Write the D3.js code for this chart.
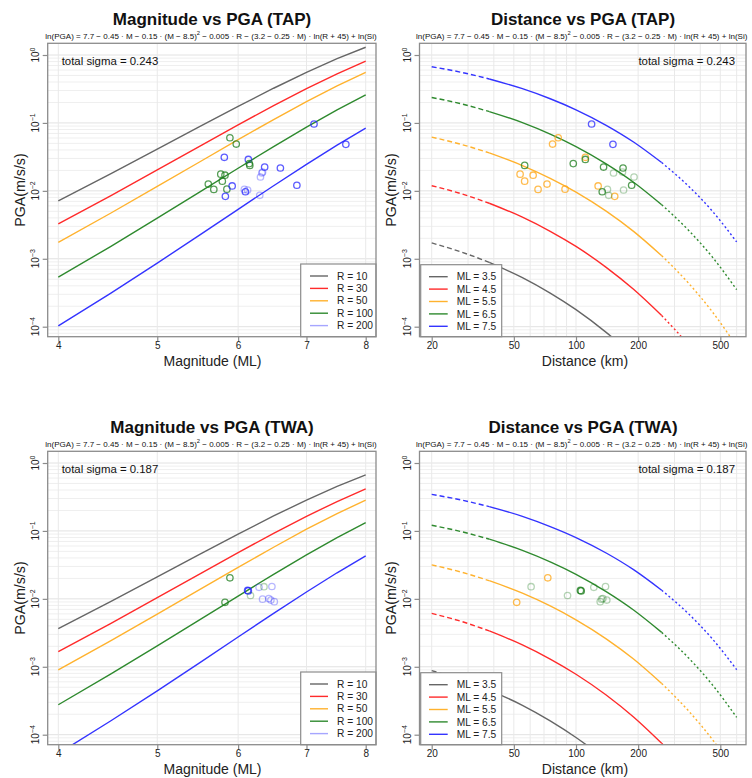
<!DOCTYPE html>
<html>
<head>
<meta charset="utf-8">
<script src="https://cdn.jsdelivr.net/npm/d3@7"></script>
<style>
  body { margin: 0; background: #fff; }
  svg text { font-family: "Liberation Sans", Arial, sans-serif; }
</style>
</head>
<body>
<div id="chart"></div>
<script>
// ---------------- data ----------------
var magGrid = [4, 4.5, 5, 5.5, 6, 6.5, 7, 7.5, 8];
var rLevels = [10, 30, 50, 100, 200];
var distGrid = [20, 28, 38, 55, 75, 100, 140, 190, 260, 350, 460, 600];
var mlLevels = [3.5, 4.5, 5.5, 6.5, 7.5];

// PGA along the magnitude curves, one row per R level
var tapMagCurves = [
  [0.00712, 0.0178, 0.0411, 0.0881, 0.175, 0.324, 0.555, 0.882, 1.30],
  [0.00326, 0.00844, 0.0203, 0.0453, 0.0937, 0.180, 0.320, 0.529, 0.811],
  [0.00175, 0.00468, 0.0116, 0.0266, 0.0567, 0.112, 0.206, 0.350, 0.553],
  [0.000538, 0.00151, 0.00396, 0.00958, 0.0215, 0.0449, 0.0868, 0.156, 0.259],
  [0.000103, 0.000309, 0.000863, 0.00223, 0.00535, 0.0119, 0.0246, 0.0471, 0.0838]
];
var twaMagCurves = [
  [0.00365, 0.00911, 0.0211, 0.0452, 0.0900, 0.166, 0.285, 0.452, 0.667],
  [0.00167, 0.00433, 0.0104, 0.0232, 0.0480, 0.0922, 0.164, 0.271, 0.416],
  [0.000899, 0.00240, 0.00594, 0.0137, 0.0291, 0.0575, 0.106, 0.180, 0.284],
  [0.000276, 0.000777, 0.00203, 0.00491, 0.0110, 0.0230, 0.0445, 0.0799, 0.133],
  [0.0000528, 0.000159, 0.000442, 0.00114, 0.00274, 0.00611, 0.0126, 0.0242, 0.0430]
];

// PGA along the distance curves, one row per ML level
var tapDistCurves = [
  [0.00171, 0.00125, 0.000885, 0.000527, 0.000312, 0.000178, 0.0000825, 0.0000368, 0.0000142, 0.00000495, 0.00000161, 0.00000045],
  [0.0119, 0.00902, 0.00657, 0.00410, 0.00254, 0.00152, 0.000748, 0.000355, 0.000146, 0.0000543, 0.0000188, 0.0000056],
  [0.0618, 0.0480, 0.0362, 0.0236, 0.0153, 0.00958, 0.00503, 0.00253, 0.00111, 0.000441, 0.000162, 0.0000516],
  [0.237, 0.190, 0.147, 0.101, 0.0685, 0.0449, 0.0250, 0.0134, 0.00625, 0.00265, 0.00104, 0.000351],
  [0.672, 0.554, 0.444, 0.319, 0.227, 0.156, 0.0923, 0.0524, 0.0261, 0.0118, 0.00493, 0.00177]
];
var twaDistCurves = [
  [0.000877, 0.000643, 0.000454, 0.000271, 0.000160, 0.0000910, 0.0000423, 0.0000189, 0.00000726, 0.00000254, 0.00000083, 0.00000023],
  [0.00612, 0.00463, 0.00337, 0.00210, 0.00130, 0.000777, 0.000384, 0.000182, 0.0000746, 0.0000278, 0.00000964, 0.00000288],
  [0.0317, 0.0246, 0.0185, 0.0121, 0.00786, 0.00491, 0.00258, 0.00130, 0.000568, 0.000226, 0.0000833, 0.0000265],
  [0.121, 0.0972, 0.0756, 0.0518, 0.0351, 0.0230, 0.0128, 0.00686, 0.00321, 0.00136, 0.000533, 0.000180],
  [0.345, 0.284, 0.228, 0.164, 0.116, 0.0799, 0.0473, 0.0269, 0.0134, 0.00606, 0.00253, 0.000907]
];

// recorded events: magnitude, distance (km), PGA, faint flag
var tapM   = [5.89, 5.975, 7.12, 7.65, 5.816, 6.14, 6.154, 6.16, 6.37, 6.6, 6.33, 6.34, 6.31, 5.77, 5.825, 5.79, 5.61, 5.68, 5.85, 5.92, 6.85, 6.085, 6.13, 6.1, 5.83, 6.30];
var tapR   = [82, 77, 119, 151, 111, 111, 97, 56.4, 136, 169, 152, 168, 191, 53.6, 62, 56.4, 72.4, 65.5, 88.5, 128, 186, 142, 170, 134, 154, 144];
var tapPGA = [0.0605, 0.0489, 0.0964, 0.0484, 0.0312, 0.029, 0.0252, 0.0237, 0.0224, 0.0217, 0.0183, 0.0189, 0.016, 0.0176, 0.017, 0.0139, 0.0126, 0.0105, 0.0106, 0.0118, 0.0121, 0.0105, 0.0103, 0.0097, 0.0083, 0.0086];
var tapFaint = [0, 0, 0, 0, 0, 0, 0, 0, 0, 0, 1, 1, 1, 0, 0, 0, 0, 0, 0, 0, 0, 1, 1, 0, 0, 1];

var twaM   = [5.89, 5.825, 6.14, 6.13, 6.17, 6.29, 6.36, 6.475, 6.34, 6.43, 6.46, 6.51];
var twaR   = [73, 51.6, 106, 105, 91, 122, 60.6, 139, 133, 135, 141, 131];
var twaPGA = [0.0204, 0.0089, 0.0131, 0.0133, 0.0112, 0.0148, 0.0151, 0.0152, 0.0099, 0.0101, 0.0096, 0.0091];
var twaFaint = [0, 0, 0, 0, 1, 1, 1, 1, 1, 1, 1, 1];

var sigmas = ["0.243", "0.187"];
var sites = ["TAP", "TWA"];
var yTicks = [1, 0.1, 0.01, 0.001, 0.0001];
var yExp = ["0", "\u22121", "\u22122", "\u22123", "\u22124"];
var magTicks = [4, 5, 6, 7, 8];
var distTicks = [20, 50, 100, 200, 500];
var distGridLines = [20, 30, 40, 50, 60, 70, 80, 90, 100, 200, 300, 400, 500, 600];

// ---------------- styling ----------------
var lineCols = ["#666666", "#ff2b2b", "#ffb22e", "#2f8a2f", "#3434ff"];
var magLegendCols = ["#666666", "#ff2b2b", "#ffb22e", "#2f8a2f", "#a6a6ff"];
var ptCols = ["#555555", "#ff0000", "#ffa514", "#1e7d1e", "#2626ff"];
var boxCol = "#8c8c8c";

var svg = d3.select("#chart").append("svg")
    .attr("width", 752)
    .attr("height", 778);

var panels = [];
[0, 1].forEach(function(row) {
    var site = row == 0 ? "tap" : "twa";
    panels.push({kind: "mag", row: row, site: site});
    panels.push({kind: "dist", row: row, site: site});
});

panels.forEach(function(p, idx) { drawPanel(p, idx); });

function drawPanel(p, idx) {
    var dy = p.row * 408;
    var isMag = p.kind == "mag";
    var left = isMag ? 47.7 : 419.5,
        right = isMag ? 376 : 746,
        top = 43.3 + dy,
        bot = 336.7 + dy;

    var x = isMag
        ? d3.scaleLog().domain([4, 8]).range([58.3, 365.7])
        : d3.scaleLog().domain([20, 500]).range([431.7, 720.3]);
    var y = d3.scaleLog().domain([1e-4, 1]).range([326.7 + dy, 55 + dy]);

    var g = svg.append("g");

    var clipId = "clip" + idx;
    svg.append("clipPath").attr("id", clipId)
        .append("rect")
        .attr("x", left).attr("y", top)
        .attr("width", right - left).attr("height", bot - top);

    // grid
    var grid = g.append("g").attr("clip-path", "url(#" + clipId + ")");
    for (var e = -5; e <= 0; e++) {
        for (var k = 1; k <= 9; k++) {
            var v = k * Math.pow(10, e);
            var yy = y(v);
            if (yy < top || yy > bot) continue;
            grid.append("line")
                .attr("x1", left).attr("x2", right)
                .attr("y1", yy).attr("y2", yy)
                .attr("stroke", k == 1 ? "#e2e2e2" : "#efefef")
                .attr("stroke-width", 1);
        }
    }
    (isMag ? magTicks : distGridLines).forEach(function(v) {
        grid.append("line")
            .attr("x1", x(v)).attr("x2", x(v))
            .attr("y1", top).attr("y2", bot)
            .attr("stroke", "#e9e9e9")
            .attr("stroke-width", 1);
    });

    // curves
    var plot = g.append("g").attr("clip-path", "url(#" + clipId + ")");
    var site = p.site;
    if (isMag) {
        var curves = site == "tap" ? tapMagCurves : twaMagCurves;
        var line = d3.line()
            .x(function(d) { return x(d[0]); })
            .y(function(d) { return y(d[1]); });
        curves.forEach(function(c, i) {
            plot.append("path")
                .datum(magGrid.map(function(m, j) { return [m, c[j]]; }))
                .attr("d", line)
                .attr("fill", "none")
                .attr("stroke", lineCols[i])
                .attr("stroke-width", 1.4);
        });
    } else {
        var curves = site == "tap" ? tapDistCurves : twaDistCurves;
        var line = d3.line()
            .curve(d3.curveMonotoneX)
            .x(function(d) { return x(d[0]); })
            .y(function(d) { return y(d[1]); });
        curves.forEach(function(c, i) {
            var pts = distGrid.map(function(r, j) { return [r, c[j]]; });
            // extrapolated near field, fitted range, extrapolated far field
            plot.append("path").datum(pts.slice(0, 3)).attr("d", line)
                .attr("fill", "none").attr("stroke", lineCols[i])
                .attr("stroke-width", 1.4).attr("stroke-dasharray", "5,3");
            plot.append("path").datum(pts.slice(2, 9)).attr("d", line)
                .attr("fill", "none").attr("stroke", lineCols[i])
                .attr("stroke-width", 1.4);
            plot.append("path").datum(pts.slice(8)).attr("d", line)
                .attr("fill", "none").attr("stroke", lineCols[i])
                .attr("stroke-width", 1.4).attr("stroke-dasharray", "2,2.5");
        });
    }

    // observations
    var M = site == "tap" ? tapM : twaM,
        R = site == "tap" ? tapR : twaR,
        A = site == "tap" ? tapPGA : twaPGA,
        F = site == "tap" ? tapFaint : twaFaint;
    var obs = M.map(function(m, i) { return {m: m, r: R[i], a: A[i], faint: F[i]}; });
    plot.selectAll(".obs")
        .data(obs)
        .enter()
        .append("circle")
        .attr("class", "obs")
        .attr("cx", function(d) { return isMag ? x(d.m) : x(d.r); })
        .attr("cy", function(d) { return y(d.a); })
        .attr("r", 3.2)
        .attr("fill", "none")
        .attr("stroke-width", 1.3)
        .attr("stroke", function(d) {
            if (isMag) {
                // colour by the distance level just above the record
                var li = rLevels.findIndex(function(r) { return r >= d.r; });
                return ptCols[li];
            }
            var mi = mlLevels.indexOf(Math.floor(d.m) + 0.5);
            return ptCols[mi];
        })
        .attr("stroke-opacity", function(d) { return d.faint ? 0.33 : 0.75; });

    // axes
    var yAxis = d3.axisLeft(y).tickValues(yTicks).tickSize(5).tickFormat("");
    var ya = g.append("g").attr("transform", "translate(" + left + ",0)").call(yAxis);
    ya.select(".domain").remove();
    ya.selectAll("line").attr("stroke", boxCol).attr("stroke-width", 1.2);

    yTicks.forEach(function(v, i) {
        var t = g.append("text")
            .attr("transform", "translate(" + (left - 8.4) + "," + y(v) + ") rotate(-90)")
            .attr("text-anchor", "middle")
            .attr("font-size", 10)
            .attr("fill", "#222");
        t.append("tspan").text("10");
        t.append("tspan").attr("dy", -4).attr("font-size", 7).text(yExp[i]);
    });

    var xAxis = d3.axisBottom(x)
        .tickValues(isMag ? magTicks : distTicks)
        .tickSize(5)
        .tickPadding(0.5)
        .tickFormat(d3.format("d"));
    var xa = g.append("g").attr("transform", "translate(0," + bot + ")").call(xAxis);
    xa.select(".domain").remove();
    xa.selectAll("line").attr("stroke", boxCol).attr("stroke-width", 1.2);
    xa.selectAll("text")
        .attr("font-size", 10)
        .attr("fill", "#222")
        .attr("font-family", "Liberation Sans, Arial, sans-serif");

    // legend
    var lg = isMag
        ? {x0: 300.7, x1: 376, y0: 264 + dy, lx0: 310, lx1: 328, tx: 337}
        : {x0: 420.7, x1: 501.7, y0: 264.7 + dy, lx0: 429, lx1: 447.7, tx: 456.7};
    g.append("rect")
        .attr("x", lg.x0).attr("y", lg.y0)
        .attr("width", lg.x1 - lg.x0).attr("height", bot - lg.y0)
        .attr("fill", "#fff").attr("stroke", boxCol).attr("stroke-width", 1.2);
    var labels = isMag
        ? rLevels.map(function(r) { return "R = " + r; })
        : mlLevels.map(function(m) { return "ML = " + m.toFixed(1); });
    labels.forEach(function(lab, i) {
        var ly = lg.y0 + 12 + i * 12.4;
        g.append("line")
            .attr("x1", lg.lx0).attr("x2", lg.lx1)
            .attr("y1", ly).attr("y2", ly)
            .attr("stroke", isMag ? magLegendCols[i] : lineCols[i])
            .attr("stroke-width", 1.4);
        g.append("text")
            .attr("x", lg.tx).attr("y", ly + 3.6)
            .attr("font-size", 10.2)
            .attr("fill", "#222")
            .text(lab);
    });

    // plot frame
    g.append("rect")
        .attr("x", left).attr("y", top)
        .attr("width", right - left).attr("height", bot - top)
        .attr("fill", "none").attr("stroke", boxCol).attr("stroke-width", 1.3);

    // texts
    var cx = isMag ? 212 : 583;
    var siteName = sites[p.row];
    g.append("text")
        .attr("x", cx).attr("y", 24.5 + dy)
        .attr("text-anchor", "middle")
        .attr("font-size", 17)
        .attr("font-weight", "bold")
        .attr("fill", "#111")
        .text((isMag ? "Magnitude vs PGA (" : "Distance vs PGA (") + siteName + ")");

    var f = g.append("text")
        .attr("x", isMag ? 211 : 581.7).attr("y", 38.5 + dy)
        .attr("text-anchor", "middle")
        .attr("font-size", 9)
        .attr("fill", "#111");
    f.append("tspan").text("ln(PGA) = 7.7 \u2212 0.45 \u00b7 M \u2212 0.15 \u00b7 (M \u2212 8.5)");
    f.append("tspan").attr("dy", -3.5).attr("font-size", 6.5).text("2");
    f.append("tspan").attr("dy", 3.5)
        .text(" \u2212 0.005 \u00b7 R \u2212 (3.2 \u2212 0.25 \u00b7 M) \u00b7 ln(R + 45) + ln(Si)");
    var fw = f.node().getComputedTextLength();
    var fs = 9 * 332 / fw;
    f.attr("font-size", fs);
    f.selectAll("tspan").filter(function(d, i) { return i == 1; }).attr("font-size", fs * 0.72);

    g.append("text")
        .attr("x", isMag ? 61.7 : 735).attr("y", 65.3 + dy)
        .attr("text-anchor", isMag ? "start" : "end")
        .attr("font-size", 11.4)
        .attr("fill", "#111")
        .text("total sigma = " + sigmas[p.row]);

    g.append("text")
        .attr("x", isMag ? 212.5 : 585).attr("y", 365.5 + dy)
        .attr("text-anchor", "middle")
        .attr("font-size", 14)
        .attr("fill", "#222")
        .text(isMag ? "Magnitude (ML)" : "Distance (km)");

    g.append("text")
        .attr("transform", "translate(" + (left - 23.2) + "," + ((top + bot) / 2) + ") rotate(-90)")
        .attr("text-anchor", "middle")
        .attr("font-size", 14.2)
        .attr("fill", "#222")
        .text("PGA(m/s/s)");
}
</script>
</body>
</html>
